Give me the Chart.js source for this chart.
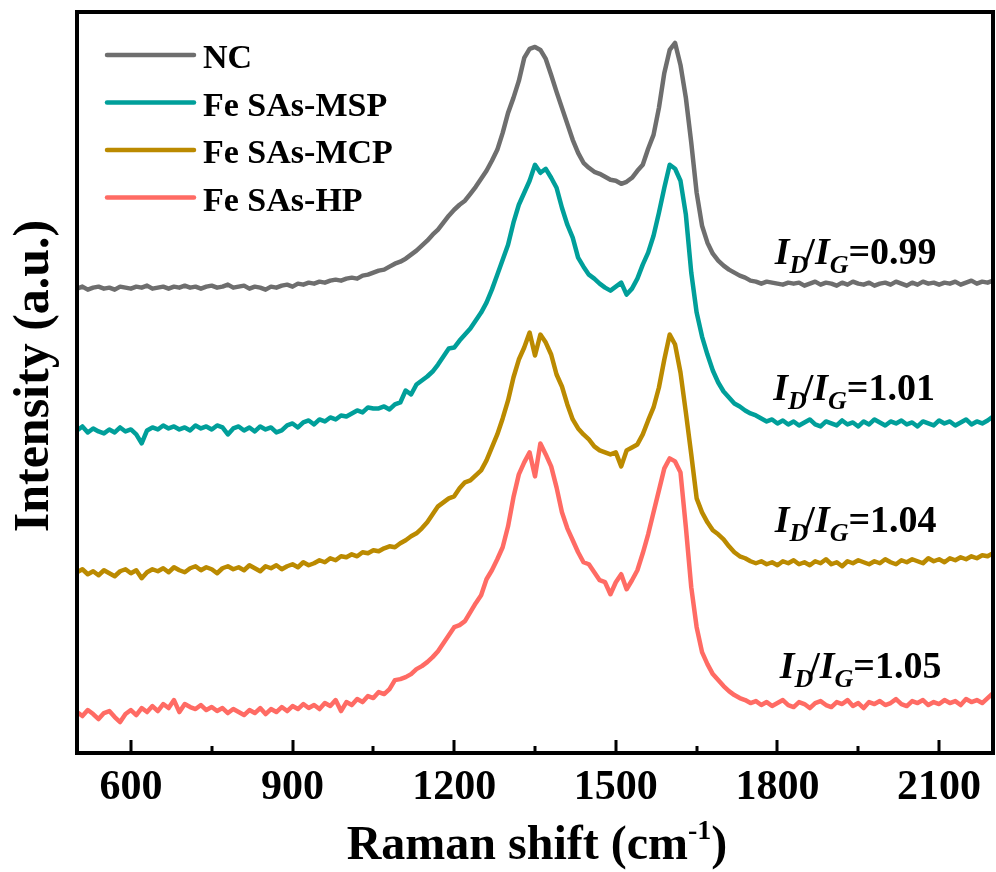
<!DOCTYPE html>
<html>
<head>
<meta charset="utf-8">
<title>Raman spectra</title>
<script src="https://cdn.jsdelivr.net/npm/chart.js@4.4.0/dist/chart.umd.min.js"></script>
<style>
  html, body { margin: 0; padding: 0; background: #fff; overflow: hidden; }
  #raman { display: block; }
</style>
</head>
<body>
<canvas id="raman" width="996" height="872"></canvas>
<script>
// ============================================
// DATA (Raman shift in cm-1, stacked intensity in a.u.)
// ============================================
const shift = [
  500, 510, 520, 530, 540, 550, 560, 570, 580, 590,
  600, 610, 620, 630, 640, 650, 660, 670, 680, 690,
  700, 710, 720, 730, 740, 750, 760, 770, 780, 790,
  800, 810, 820, 830, 840, 850, 860, 870, 880, 890,
  900, 910, 920, 930, 940, 950, 960, 970, 980, 990,
  1000, 1010, 1020, 1030, 1040, 1050, 1060, 1070, 1080, 1090,
  1100, 1110, 1120, 1130, 1140, 1150, 1160, 1170, 1180, 1190,
  1200, 1210, 1220, 1230, 1240, 1250, 1260, 1270, 1280, 1290,
  1300, 1310, 1320, 1330, 1340, 1350, 1360, 1370, 1380, 1390,
  1400, 1410, 1420, 1430, 1440, 1450, 1460, 1470, 1480, 1490,
  1500, 1510, 1520, 1530, 1540, 1550, 1560, 1570, 1580, 1590,
  1600, 1610, 1620, 1630, 1640, 1650, 1660, 1670, 1680, 1690,
  1700, 1710, 1720, 1730, 1740, 1750, 1760, 1770, 1780, 1790,
  1800, 1810, 1820, 1830, 1840, 1850, 1860, 1870, 1880, 1890,
  1900, 1910, 1920, 1930, 1940, 1950, 1960, 1970, 1980, 1990,
  2000, 2010, 2020, 2030, 2040, 2050, 2060, 2070, 2080, 2090,
  2100, 2110, 2120, 2130, 2140, 2150, 2160, 2170, 2180, 2190,
  2200
];

const ncIntensity = [
  464, 466, 463, 465, 466, 464, 465, 463, 466, 465,
  464, 466, 465, 467, 464, 465, 466, 464, 466, 465,
  467, 465, 466, 464, 466, 467, 465, 466, 468, 465,
  466, 467, 464, 466, 465, 463, 466, 465, 467, 468,
  466, 469, 468, 470, 469, 471, 470, 472, 473, 472,
  474, 475, 474, 477, 478, 480, 482, 483, 486, 489,
  491, 494, 498, 502, 507, 512, 518, 523, 530, 537,
  543, 548, 552, 559, 566, 574, 582, 592, 603, 620,
  640, 655, 672, 695, 704, 706, 703, 694, 678, 661,
  645, 629, 613, 600, 590, 585, 581, 579, 576, 573,
  572, 569, 571, 575, 582, 588, 604, 618, 645, 680,
  703, 710, 688, 655, 610, 560, 527, 510, 499, 492,
  487, 483, 480, 477, 475, 472, 471, 469, 471, 470,
  469, 468, 470, 469, 470, 467, 469, 471, 468, 470,
  469, 467, 470, 468, 471, 469, 468, 470, 467, 469,
  470, 468, 471, 469, 467, 470, 468, 471, 469, 470,
  468, 470, 469, 471, 468, 470, 472, 469, 471, 470,
  472
];

const mspIntensity = [
  322, 326, 320, 324, 321, 319, 323, 320, 325, 321,
  323, 318, 309, 322, 325, 323, 327, 324, 326, 323,
  325, 322, 327, 324, 326, 323, 327, 325, 318, 324,
  326, 322, 325, 321, 326, 323, 325, 320, 322, 327,
  329, 325, 330, 332, 328, 333, 331, 335, 333, 337,
  336, 339, 342, 340, 345, 344, 344, 346, 343, 348,
  350, 362, 358, 368, 372, 376, 381, 388, 396, 404,
  405, 412, 418, 424, 432, 440, 450, 463, 478, 493,
  508, 530, 548, 560, 572, 588, 580, 584, 575, 565,
  545, 528, 515, 495, 486, 478, 474, 469, 465, 462,
  466, 470, 458, 464, 474, 488, 500, 517, 540, 565,
  588, 584, 572, 538, 480, 440, 416, 398, 382, 370,
  361, 355, 349, 346, 342, 339, 337, 334, 331, 333,
  329, 332, 328, 331, 327, 330, 333, 328, 326, 331,
  329, 327, 332, 328, 330, 326, 331, 328, 333, 330,
  327, 331, 329, 332, 328, 330, 326, 331, 329, 327,
  332, 329, 331, 327, 330, 333, 328, 331, 329, 332,
  336
];

const mcpIntensity = [
  180, 183, 178, 181, 177, 182, 179, 176, 181, 183,
  179, 182, 174, 180, 183, 181, 184, 180, 185, 182,
  180, 184, 186, 182, 185, 183, 179, 184, 186, 183,
  185, 182, 187, 184, 181, 186, 184, 187, 183, 186,
  188, 185, 190, 187, 189, 192, 190, 194, 192, 196,
  195, 198, 196, 200, 199, 202, 201, 204, 206, 205,
  209, 212, 216, 219, 224, 230, 238, 246, 250, 254,
  256, 264, 270, 272, 277, 282, 292, 305, 318, 334,
  352, 375, 393, 405, 420, 397, 418, 410, 398, 378,
  366, 348, 333, 324, 318, 313, 306, 302, 300, 298,
  300, 286, 302, 305, 308, 318, 332, 345, 365, 393,
  418, 408, 380, 340, 298, 254, 240, 230, 222, 218,
  213, 206, 200, 196, 194, 191, 189, 191, 188, 190,
  187, 191, 189, 192, 188, 190, 187, 191, 189, 193,
  188, 190, 186, 191, 189, 192, 190, 188, 191, 189,
  193, 190, 188, 192, 190, 193, 191, 189, 194, 191,
  193, 190, 194, 192, 195, 193, 196, 194, 197, 196,
  199
];

const hpIntensity = [
  40, 36, 42, 38, 33, 39, 41, 35, 30, 38,
  42, 37, 44, 40, 46, 41, 48, 44, 52, 40,
  48, 45, 43, 47, 42, 45, 41, 44, 39, 43,
  40, 37, 42, 39, 44, 38, 43, 40, 45, 41,
  46, 43, 48, 44, 47, 43, 49, 46, 52, 41,
  50, 47, 53, 50, 56, 54, 60, 58, 63, 72,
  73, 75, 78, 83, 86, 90, 95, 101, 109, 117,
  125, 127, 131, 140, 149, 157, 173, 182, 193, 205,
  226, 255, 278, 290, 300, 276, 309, 298, 286, 265,
  240, 224, 212, 200, 190, 188, 180, 172, 170, 158,
  170, 178, 163, 172, 182, 199, 218, 240, 262, 284,
  294, 291, 280, 225, 165, 125, 100, 88, 78, 72,
  66, 61, 57, 54, 52, 49, 51, 47, 50, 46,
  49, 52, 47, 45, 50, 48, 44, 49, 51, 47,
  45, 50, 48, 52, 46, 49, 44, 50, 48, 51,
  47, 49, 53, 48, 46, 51, 49, 52, 47, 50,
  48, 52, 49, 51, 47, 53, 50, 52, 49, 54,
  59
];

const seriesNames = ['NC', 'Fe SAs-MSP', 'Fe SAs-MCP', 'Fe SAs-HP'];
const seriesColors = ['#6e6e6e', '#009f9a', '#bb8a00', '#ff6b64'];

const xMajorTicks = [600, 900, 1200, 1500, 1800, 2100];
const xMinorTicks = [750, 1050, 1350, 1650, 1950];

// I_D/I_G labels, anchored in data coordinates
const ratioValues = ['0.99', '1.01', '1.04', '1.05'];
const ratioX = [1795, 1792, 1795, 1804];
const ratioY = [489, 352, 220, 74];

// ============================================
// HELPERS
// ============================================
const SERIF = '"Liberation Serif", "Times New Roman", serif';

function toPoints(values) {
    return shift.map((x, i) => ({ x: x, y: values[i] }));
}

function drawRatio(ctx, x0, baseline, value) {
    let x = x0;
    const parts = [
        { t: 'I', font: 'italic bold 38px ' + SERIF, dy: 0 },
        { t: 'D', font: 'italic bold 26px ' + SERIF, dy: 9 },
        { t: '/', font: 'bold 38px ' + SERIF, dy: 0, kern: -4 },
        { t: 'I', font: 'italic bold 38px ' + SERIF, dy: 0 },
        { t: 'G', font: 'italic bold 26px ' + SERIF, dy: 9 },
        { t: '=' + value, font: 'bold 38px ' + SERIF, dy: 0 }
    ];
    ctx.textAlign = 'left';
    ctx.textBaseline = 'alphabetic';
    parts.forEach(p => {
        ctx.font = p.font;
        x += p.kern || 0;
        ctx.fillText(p.t, x, baseline + p.dy);
        x += ctx.measureText(p.t).width;
    });
}

// ============================================
// FRAME, TICKS, LEGEND, TITLES
// ============================================
const decorPlugin = {
    id: 'ramanDecor',
    afterDraw(chart) {
        const ctx = chart.ctx;
        const area = chart.chartArea;
        const xs = chart.scales.x;
        const ys = chart.scales.y;

        ctx.save();
        ctx.fillStyle = '#000';

        // box around the plot
        const bw = 4;
        const w = area.right - area.left;
        const h = area.bottom - area.top;
        ctx.fillRect(area.left - bw / 2, area.top - bw / 2, w + bw, bw);
        ctx.fillRect(area.right - bw / 2, area.top - bw / 2, bw, h + bw);
        ctx.fillRect(area.left - bw / 2, area.bottom - bw / 2, w + bw, bw);
        ctx.fillRect(area.left - bw / 2, area.top - bw / 2, bw, h + bw);

        // inward ticks on the bottom axis
        xMajorTicks.forEach(v => {
            const px = Math.round(xs.getPixelForValue(v));
            ctx.fillRect(px - 1.5, area.bottom - 13, 3, 13);
        });
        xMinorTicks.forEach(v => {
            const px = Math.round(xs.getPixelForValue(v));
            ctx.fillRect(px - 1.5, area.bottom - 7, 3, 7);
        });

        // legend
        ctx.lineWidth = 4.5;
        ctx.lineCap = 'round';
        ctx.font = 'bold 34px ' + SERIF;
        ctx.textAlign = 'left';
        ctx.textBaseline = 'alphabetic';
        seriesNames.forEach((name, i) => {
            const y = 55 + i * 47.5;
            ctx.strokeStyle = seriesColors[i];
            ctx.beginPath();
            ctx.moveTo(107, y);
            ctx.lineTo(194, y);
            ctx.stroke();
            ctx.fillStyle = '#000';
            ctx.fillText(name, 203, y + 13);
        });

        // intensity ratio labels
        ratioValues.forEach((v, i) => {
            drawRatio(ctx, xs.getPixelForValue(ratioX[i]), ys.getPixelForValue(ratioY[i]), v);
        });

        // x axis title with superscript
        ctx.fillStyle = '#000';
        const main = 'Raman shift (cm';
        const sup = '-1';
        ctx.font = 'bold 48px ' + SERIF;
        const wMain = ctx.measureText(main).width;
        const wClose = ctx.measureText(')').width;
        ctx.font = 'bold 28px ' + SERIF;
        const wSup = ctx.measureText(sup).width;
        let tx = 537 - (wMain + wSup + wClose) / 2;
        const base = 859;
        ctx.font = 'bold 48px ' + SERIF;
        ctx.fillText(main, tx, base);
        tx += wMain;
        ctx.font = 'bold 28px ' + SERIF;
        ctx.fillText(sup, tx, base - 20);
        tx += wSup;
        ctx.font = 'bold 48px ' + SERIF;
        ctx.fillText(')', tx, base);

        // y axis title
        ctx.translate(48, 376);
        ctx.rotate(-Math.PI / 2);
        ctx.textAlign = 'center';
        ctx.font = 'bold 50px ' + SERIF;
        ctx.fillText('Intensity (a.u.)', 0, 0);
        ctx.restore();
    }
};

// ============================================
// CHART
// ============================================
const intensities = [ncIntensity, mspIntensity, mcpIntensity, hpIntensity];

new Chart(document.getElementById('raman'), {
    type: 'line',
    data: {
        datasets: intensities.map((values, i) => ({
            label: seriesNames[i],
            data: toPoints(values),
            borderColor: seriesColors[i],
            backgroundColor: seriesColors[i],
            borderWidth: 4.5,
            borderJoinStyle: 'round',
            borderCapStyle: 'round',
            pointRadius: 0,
            tension: 0,
            fill: false
        }))
    },
    options: {
        responsive: false,
        animation: false,
        devicePixelRatio: 1,
        layout: { padding: { left: 0, top: 12, right: 3, bottom: 0 } },
        plugins: {
            legend: { display: false },
            tooltip: { enabled: false }
        },
        scales: {
            x: {
                type: 'linear',
                min: 500,
                max: 2200,
                grid: { display: false, drawTicks: false },
                border: { display: false },
                afterBuildTicks: scale => {
                    scale.ticks = xMajorTicks.map(v => ({ value: v }));
                },
                afterFit: scale => { scale.height = 119; },
                ticks: {
                    color: '#000',
                    padding: 10,
                    maxRotation: 0,
                    autoSkip: false,
                    callback: v => String(v),
                    font: { family: SERIF, weight: 'bold', size: 42 }
                }
            },
            y: {
                type: 'linear',
                min: -1,
                max: 741,
                grid: { display: false, drawTicks: false },
                border: { display: false },
                ticks: { display: false },
                afterFit: scale => { scale.width = 77; }
            }
        }
    },
    plugins: [decorPlugin]
});
</script>
</body>
</html>
